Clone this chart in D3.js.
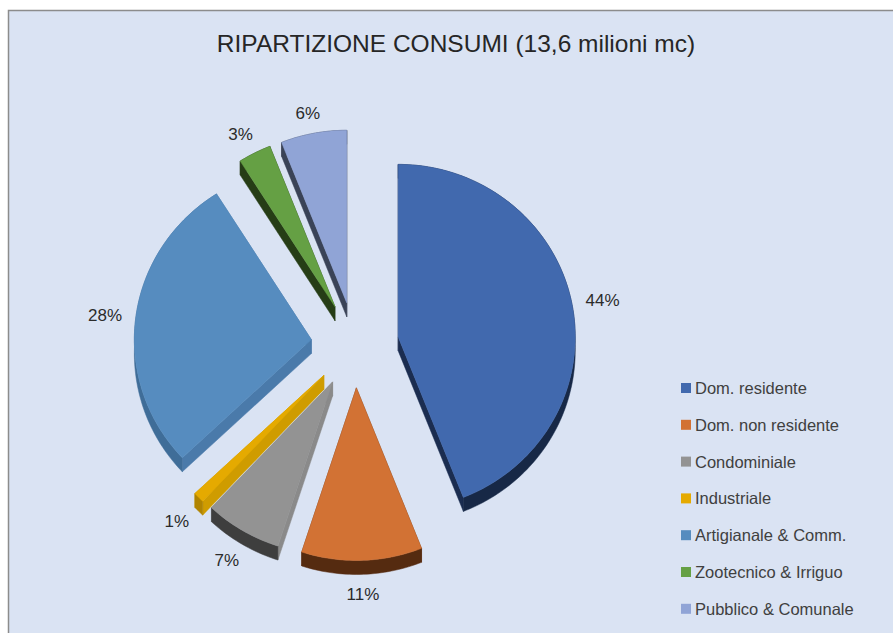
<!DOCTYPE html>
<html>
<head>
<meta charset="utf-8">
<script src="https://cdn.jsdelivr.net/npm/d3@7"></script>
<style>
  body { margin: 0; background: #ffffff; }
</style>
</head>
<body>
<div id="chart"></div>
<script>
// data
var categories = ["Dom. residente", "Dom. non residente", "Condominiale", "Industriale",
                  "Artigianale & Comm.", "Zootecnico & Irriguo", "Pubblico & Comunale"];
var values = [44, 11, 7, 1, 28, 3, 6];
var chartTitle = "RIPARTIZIONE CONSUMI (13,6 milioni mc)";

// colours: top face, outer side, radial-edge side
var topColors  = ["#4169ae", "#d27234", "#939393", "#e5aa00", "#568cbf", "#65a044", "#90a4d6"];
var arcSides   = ["#172846", "#552b10", "#3e3e3e", "#b08400", "#3f6d98", "#263d16", "#3a4357"];
var edgeSides  = ["#1b2d50", "#6a3513", "#8a8a8a", "#cf9c00", "#4a7aaa", "#263d16", "#3a4357"];

var W = 893, H = 633;
var cx = 355, cy = 345;       // pie centre
var R = 177, sy = 0.975;      // radius, vertical squash
var explode = 44, depth = 14;

var svg = d3.select("#chart").append("svg")
    .attr("width", W)
    .attr("height", H);

// chart area
svg.append("rect")
    .attr("x", 8.5).attr("y", 10.5)
    .attr("width", W + 10).attr("height", H + 10)
    .attr("fill", "#dae3f3")
    .attr("stroke", "#8c8c8c")
    .attr("stroke-width", 1.5);

// title
svg.append("text")
    .attr("x", 456)
    .attr("y", 52)
    .attr("text-anchor", "middle")
    .style("font-family", "'Liberation Sans', Arial, sans-serif")
    .style("font-size", "24.5px")
    .style("fill", "#262626")
    .text(chartTitle);

var pie = d3.pie().sort(null).value(function (d) { return d; });
var arcs = pie(values);

// point helper: angle t (0 = 12 o'clock, clockwise), radius r, from origin (ox, oy)
function pt(ox, oy, r, t) {
    return [ox + r * Math.sin(t), oy - r * Math.cos(t) * sy];
}

var slices = arcs.map(function (a, i) {
    var m = (a.startAngle + a.endAngle) / 2;
    var apex = pt(cx, cy, explode, m);
    var n = Math.max(4, Math.ceil((a.endAngle - a.startAngle) / 0.02));
    var arcPts = d3.range(n + 1).map(function (k) {
        var t = a.startAngle + (a.endAngle - a.startAngle) * k / n;
        return pt(apex[0], apex[1], R, t);
    });
    return { i: i, a: a, mid: m, apex: apex, arcPts: arcPts };
});

function shift(p) { return [p[0], p[1] + depth]; }
var line = d3.line();

// sides (extrusion straight down)
var sides = svg.append("g");
slices.forEach(function (s) {
    var p0 = s.arcPts[0], p1 = s.arcPts[s.arcPts.length - 1];
    // radial edges
    [p0, p1].forEach(function (q) {
        sides.append("path")
            .attr("d", line([s.apex, q, shift(q), shift(s.apex)]) + "Z")
            .attr("fill", edgeSides[s.i])
            .attr("stroke", edgeSides[s.i])
            .attr("stroke-width", 0.5);
    });
    // outer band
    var band = s.arcPts.concat(s.arcPts.slice().reverse().map(shift));
    sides.append("path")
        .attr("d", line(band) + "Z")
        .attr("fill", arcSides[s.i])
        .attr("stroke", arcSides[s.i])
        .attr("stroke-width", 0.5);
});

// top faces
svg.append("g").selectAll("path")
    .data(slices)
    .enter()
    .append("path")
    .attr("d", function (s) { return line([s.apex].concat(s.arcPts)) + "Z"; })
    .attr("fill", function (s) { return topColors[s.i]; })
    .attr("stroke", function (s) { return topColors[s.i]; })
    .attr("stroke-width", 0.5);

// percentage labels
var Lx = 252, Ly = 236;
svg.append("g").selectAll("text")
    .data(slices)
    .enter()
    .append("text")
    .attr("x", function (s) { return cx + Lx * Math.sin(s.mid); })
    .attr("y", function (s) {
        var c = Math.cos(s.mid);
        return cy - Ly * c + (c < 0 ? -depth * c : 0);
    })
    .attr("text-anchor", "middle")
    .attr("dominant-baseline", "central")
    .style("font-family", "'Liberation Sans', Arial, sans-serif")
    .style("font-size", "17px")
    .style("fill", "#2b2b2b")
    .text(function (s) { return s.a.data + "%"; });

// legend
var legend = svg.append("g").attr("transform", "translate(681,388)");
var rows = legend.selectAll("g")
    .data(categories)
    .enter()
    .append("g")
    .attr("transform", function (d, i) { return "translate(0," + (i * 36.8) + ")"; });
rows.append("rect")
    .attr("x", 0).attr("y", -5)
    .attr("width", 10).attr("height", 10)
    .attr("fill", function (d, i) { return topColors[i]; });
rows.append("text")
    .attr("x", 14)
    .attr("y", 0)
    .attr("dominant-baseline", "central")
    .style("font-family", "'Liberation Sans', Arial, sans-serif")
    .style("font-size", "16.5px")
    .style("fill", "#404040")
    .text(function (d) { return d; });
</script>
</body>
</html>
